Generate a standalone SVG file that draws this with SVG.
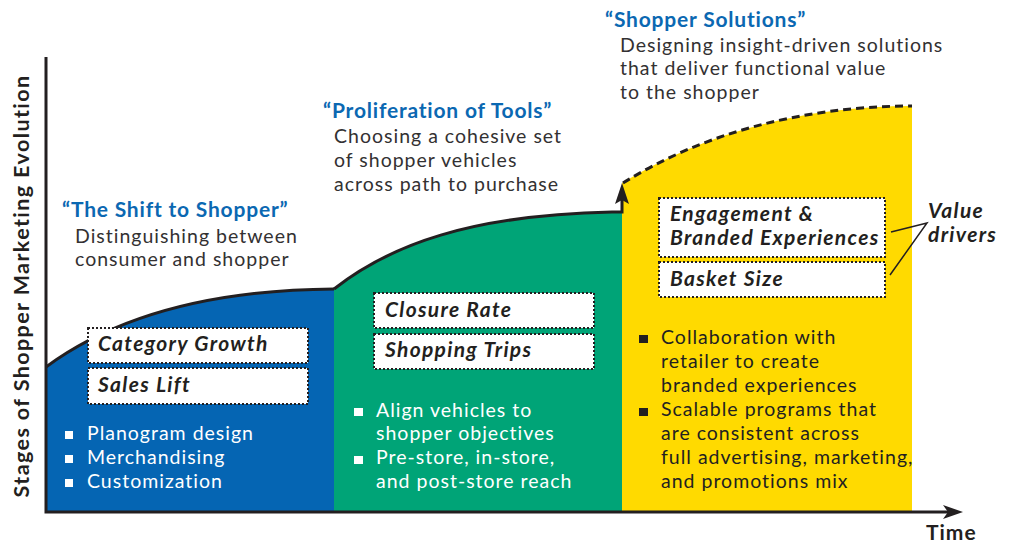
<svg xmlns="http://www.w3.org/2000/svg" width="1010" height="542" viewBox="0 0 1010 542">
<style>
text{font-family:Lato,"Liberation Sans",sans-serif}
.head{font-weight:700;font-size:21px;letter-spacing:0.8px;fill:#0B68B2}
.desc{font-size:19.5px;letter-spacing:1px;fill:#333132}
.box{font-weight:700;font-style:italic;font-size:21px;letter-spacing:1.3px;fill:#231F20}
.bw{font-size:19.5px;letter-spacing:1px;fill:#FFFFFF}
.bd{font-size:19.5px;letter-spacing:1px;fill:#231F20}
.ax{font-weight:700;font-size:21px;letter-spacing:1px;fill:#231F20}
.yl{font-weight:700;font-size:21.5px;letter-spacing:1.4px;fill:#231F20}
.dot{fill:#FFFFFF;stroke:#231F20;stroke-width:2;stroke-dasharray:2 2}
.ln{fill:none;stroke:#231F20;stroke-width:3}
</style>
<rect width="1010" height="542" fill="#FFFFFF"/>
<g id="stage1">
<path d="M46,512 L46,367 C110,320 200,290 334,289 L334,512 Z" fill="#0565B3"/>
<path class="ln" d="M46,367 C110,320 200,290 334,289"/>
<text class="head" x="62" y="217">“The Shift to Shopper”</text>
<text class="desc" x="75" y="243">Distinguishing between</text>
<text class="desc" x="75" y="266">consumer and shopper</text>
<rect class="dot" x="88" y="328" width="220" height="35"/>
<text class="box" x="98" y="351">Category Growth</text>
<rect class="dot" x="88" y="368" width="220" height="36"/>
<text class="box" x="98" y="392">Sales Lift</text>
<rect x="65" y="431" width="8" height="8" fill="#FFFFFF"/>
<rect x="65" y="455" width="8" height="8" fill="#FFFFFF"/>
<rect x="65" y="479" width="8" height="8" fill="#FFFFFF"/>
<text class="bw" x="87" y="440">Planogram design</text>
<text class="bw" x="87" y="464">Merchandising</text>
<text class="bw" x="87" y="488">Customization</text>
</g>
<g id="stage2">
<path d="M334,512 L334,289 C390,245 470,215 612,212 L622,212 L622,512 Z" fill="#00A477"/>
<text class="head" x="323" y="118">“Proliferation of Tools”</text>
<text class="desc" x="334" y="143">Choosing a cohesive set</text>
<text class="desc" x="334" y="167">of shopper vehicles</text>
<text class="desc" x="334" y="191">across path to purchase</text>
<rect class="dot" x="374" y="293" width="220" height="35"/>
<text class="box" x="385" y="317">Closure Rate</text>
<rect class="dot" x="374" y="334" width="220" height="35"/>
<text class="box" x="385" y="357">Shopping Trips</text>
<rect x="354" y="408" width="9" height="8" fill="#FFFFFF"/>
<rect x="354" y="456" width="9" height="8" fill="#FFFFFF"/>
<text class="bw" x="376" y="417">Align vehicles to</text>
<text class="bw" x="376" y="440">shopper objectives</text>
<text class="bw" x="376" y="464">Pre-store, in-store,</text>
<text class="bw" x="376" y="488">and post-store reach</text>
</g>
<g id="stage3">
<path d="M622,512 L622,183 C700,135 800,106 912,106 L912,512 Z" fill="#FFDA00"/>
<text class="head" x="605" y="27">“Shopper Solutions”</text>
<text class="desc" x="620" y="52">Designing insight-driven solutions</text>
<text class="desc" x="620" y="75">that deliver functional value</text>
<text class="desc" x="620" y="99">to the shopper</text>
<rect class="dot" x="659" y="198" width="226" height="59"/>
<text class="box" x="670" y="221">Engagement &amp;</text>
<text class="box" x="670" y="245">Branded Experiences</text>
<rect class="dot" x="659" y="262" width="226" height="35"/>
<text class="box" x="670" y="286">Basket Size</text>
<rect x="639" y="335" width="9" height="8" fill="#231F20"/>
<rect x="639" y="408" width="9" height="8" fill="#231F20"/>
<text class="bd" x="661" y="344">Collaboration with</text>
<text class="bd" x="661" y="368">retailer to create</text>
<text class="bd" x="661" y="392">branded experiences</text>
<text class="bd" x="661" y="416">Scalable programs that</text>
<text class="bd" x="661" y="440">are consistent across</text>
<text class="bd" x="661" y="464">full advertising, marketing,</text>
<text class="bd" x="661" y="488">and promotions mix</text>
</g>
<g id="value-drivers">
<text class="box" x="928" y="218">Value</text>
<text class="box" x="928" y="242">drivers</text>
</g>
<g id="connectors">
<path class="ln" d="M334,289 C390,245 470,215 612,212 L622,212 L622,198"/>
<path d="M622,183 L615,204 L622,200 L629,204 Z" fill="#231F20"/>
<path d="M623,183 C700,135 800,106 912,106" fill="none" stroke="#231F20" stroke-width="3" stroke-dasharray="8 5"/>
<path d="M891,232 L927,223 L890,275" fill="none" stroke="#231F20" stroke-width="1.5"/>
</g>
<g id="axes">
<path class="ln" d="M46,57 L46,512 L950,512"/>
<path d="M963,512 L943,505 L948,512 L943,519 Z" fill="#231F20"/>
<text class="ax" x="926" y="540">Time</text>
<text class="yl" text-anchor="middle" transform="translate(29,286) rotate(-90)">Stages of Shopper Marketing Evolution</text>
</g>
</svg>
